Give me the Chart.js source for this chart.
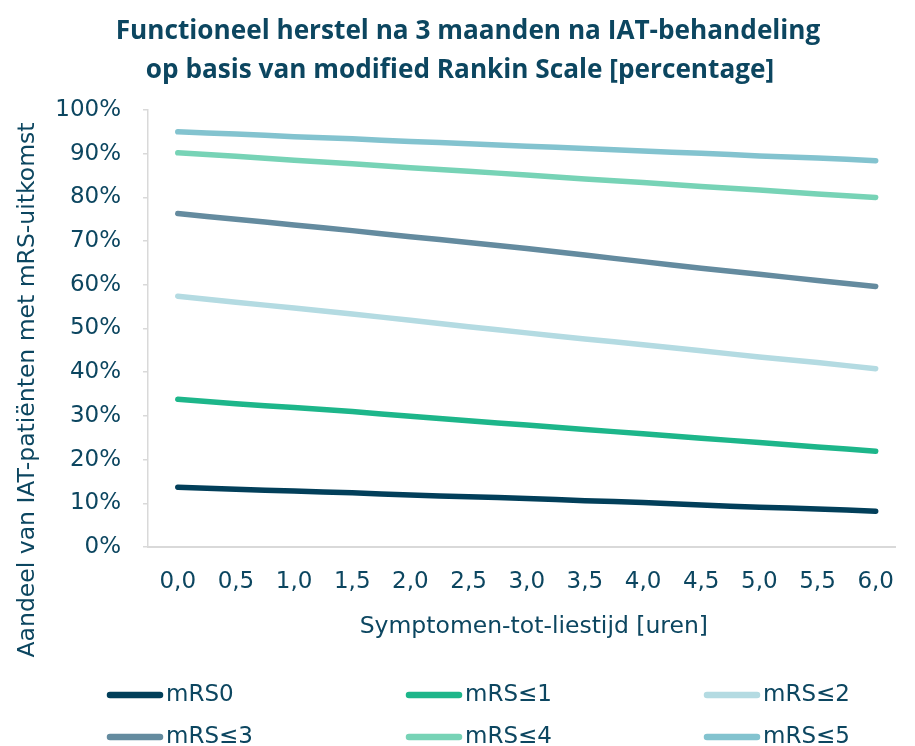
<!DOCTYPE html>
<html>
<head>
<meta charset="utf-8">
<script src="https://cdn.jsdelivr.net/npm/chart.js@4.4.1/dist/chart.umd.min.js"></script>
<style>
  html, body { margin: 0; padding: 0; background: #ffffff; }
  #wrap { width: 915px; height: 746px; position: relative; }
</style>
</head>
<body>
<div id="wrap"><canvas id="c" width="915" height="746"></canvas></div>
<script>
// ---- data ----
const hours = [0, 0.5, 1, 1.5, 2, 2.5, 3, 3.5, 4, 4.5, 5, 5.5, 6];
const tickLabels = ["0,0","0,5","1,0","1,5","2,0","2,5","3,0","3,5","4,0","4,5","5,0","5,5","6,0"];
const yTicks = [0,10,20,30,40,50,60,70,80,90,100];
const seriesNames = ["mRS0", "mRS≤1", "mRS≤2", "mRS≤3", "mRS≤4", "mRS≤5"];
const mRS0 = [13.7,13.2,12.8,12.4,11.9,11.5,11.1,10.6,10.2,9.6,9.1,8.7,8.2];
const mRS1 = [33.8,32.8,31.9,31.0,29.9,28.9,27.9,26.9,25.9,24.9,23.9,22.9,21.9];
const mRS2 = [57.4,56.0,54.7,53.3,51.9,50.4,49.0,47.6,46.3,44.9,43.5,42.2,40.8];
const mRS3 = [76.3,75.0,73.7,72.4,71.0,69.7,68.3,66.8,65.3,63.8,62.4,61.0,59.6];
const mRS4 = [90.2,89.4,88.5,87.7,86.8,86.0,85.1,84.2,83.4,82.5,81.7,80.8,80.0];
const mRS5 = [95.0,94.5,93.9,93.4,92.8,92.3,91.7,91.2,90.6,90.1,89.5,89.0,88.4];
const titleLines = ["Functioneel herstel na 3 maanden na IAT-behandeling", "op basis van modified Rankin Scale [percentage]"];
const xTitle = "Symptomen-tot-liestijd [uren]";
const yTitle = "Aandeel van IAT-patiënten met mRS-uitkomst";

// ---- style ----
const TEXT = "#0c4660";
const FONT = "'DejaVu Sans'";
const TITLE_FONT = "'Open Sans'";
const colors = ["#023f5a", "#1db68a", "#b4dbe2", "#648b9f", "#77d3b6", "#83c3cf"];
const allSeries = [mRS0, mRS1, mRS2, mRS3, mRS4, mRS5];

const datasets = allSeries.map((vals, i) => ({
  label: seriesNames[i],
  data: hours.map((h, k) => ({ x: h, y: vals[k] })),
  borderColor: colors[i],
  backgroundColor: colors[i],
  borderWidth: 5.5,
  borderCapStyle: 'round',
  borderJoinStyle: 'round',
  pointRadius: 0,
  tension: 0.3,
  fill: false
}));

const textPlugin = {
  id: 'texts',
  afterDraw(chart) {
    const ctx = chart.ctx;
    const ca = chart.chartArea;
    ctx.save();
    ctx.fillStyle = TEXT;
    // main title (size fitted to the reference line width)
    ctx.font = "bold 26px " + TITLE_FONT;
    const w = ctx.measureText(titleLines[0]).width;
    const size = Math.min(28, 26 * 705 / w);
    ctx.font = "bold " + size.toFixed(2) + "px " + TITLE_FONT;
    ctx.textAlign = 'center';
    ctx.textBaseline = 'middle';
    ctx.fillText(titleLines[0], 468, 32);
    ctx.fillText(titleLines[1], 460, 71);
    // x title
    ctx.font = "23.5px " + FONT;
    ctx.fillText(xTitle, (ca.left + ca.right) / 2 + 12, 627);
    // y title
    ctx.save();
    ctx.translate(28, 390);
    ctx.rotate(-Math.PI / 2);
    ctx.fillText(yTitle, 0, 0);
    ctx.restore();
    // legend
    const colX = [107, 406, 704];
    const rowY = [695, 737];
    chart.data.datasets.forEach((ds, i) => {
      const x = colX[i % 3], y = rowY[Math.floor(i / 3)];
      ctx.strokeStyle = ds.borderColor;
      ctx.lineWidth = 6.5;
      ctx.lineCap = 'round';
      ctx.beginPath();
      ctx.moveTo(x + 3, y);
      ctx.lineTo(x + 53, y);
      ctx.stroke();
      ctx.textAlign = 'left';
      ctx.fillStyle = TEXT;
      ctx.font = "23px " + FONT;
      ctx.fillText(ds.label, x + 59, y);
    });
    ctx.restore();
  }
};

new Chart(document.getElementById('c'), {
  type: 'line',
  data: { datasets },
  plugins: [textPlugin],
  options: {
    responsive: false,
    animation: false,
    layout: { padding: { top: 110, left: 0, right: 1, bottom: 0 } },
    plugins: { legend: { display: false }, title: { display: false }, tooltip: { enabled: false } },
    scales: {
      x: {
        type: 'linear',
        min: -0.256,
        max: 6.172,
        afterFit(scale) { scale.height = 199; },
        afterBuildTicks(scale) { scale.ticks = hours.map(v => ({ value: v })); },
        ticks: {
          color: TEXT,
          font: { family: "DejaVu Sans", size: 23 },
          padding: 21,
          maxRotation: 0,
          autoSkip: false,
          callback: (v) => { const k = hours.indexOf(v); return k >= 0 ? tickLabels[k] : ''; }
        },
        grid: { display: true, drawOnChartArea: false, drawTicks: false },
        border: { color: '#d9d9d9', width: 2 }
      },
      y: {
        min: 0,
        max: 100,
        afterFit(scale) { scale.width = 148; },
        afterBuildTicks(scale) { scale.ticks = yTicks.map(v => ({ value: v })); },
        ticks: {
          color: TEXT,
          font: { family: "DejaVu Sans", size: 23 },
          padding: 22,
          callback: (v) => v + '%'
        },
        grid: { drawOnChartArea: false, drawTicks: true, tickLength: 5, color: '#d9d9d9', lineWidth: 1.5 },
        border: { color: '#d9d9d9', width: 1.5 }
      }
    }
  }
});
</script>
</body>
</html>
